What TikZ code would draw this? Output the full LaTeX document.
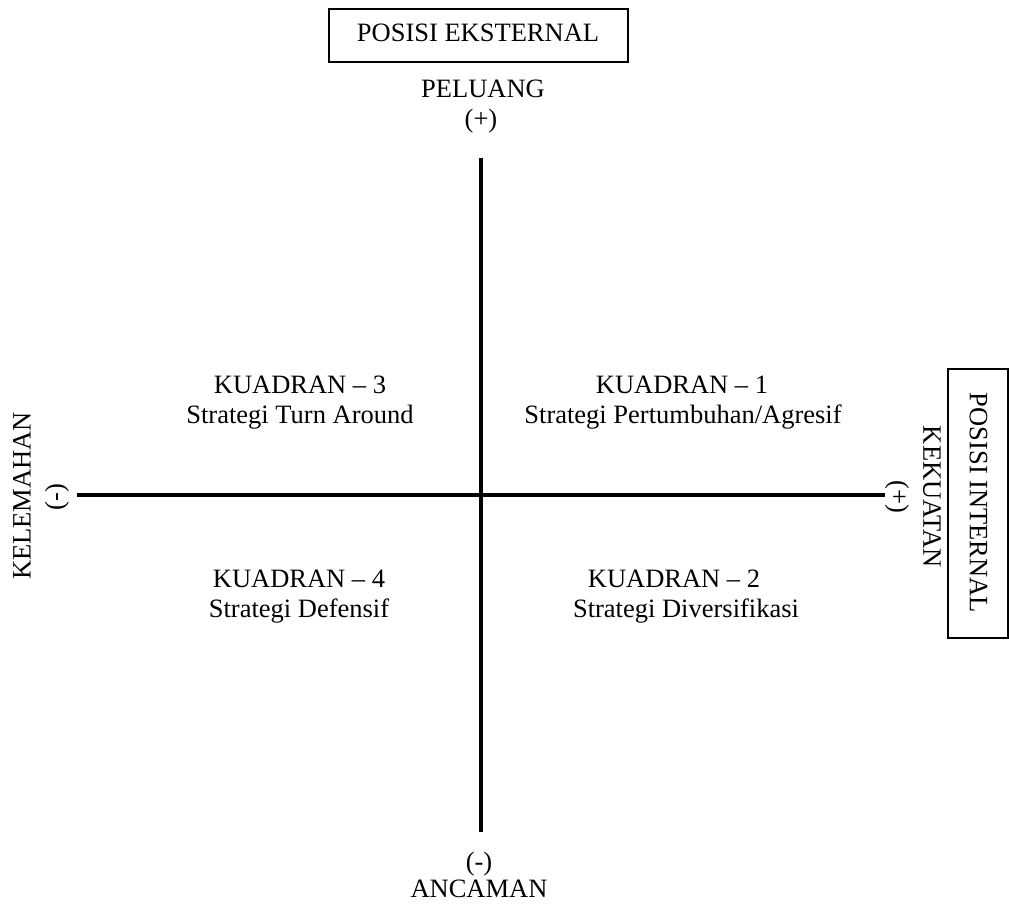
\documentclass[tikz,border=0pt]{standalone}
\usepackage{fontspec}
\setmainfont{Liberation Serif}
\begin{document}
\begin{tikzpicture}[x=1pt,y=-1pt,
  every node/.style={inner sep=0pt, outer sep=0pt, font=\fontsize{26.5}{30}\selectfont},
  axis/.style={line width=4pt},
  frame/.style={draw, line width=1.3pt},
  lbl/.style={anchor=base}]
\useasboundingbox (0,0) rectangle (1009,906);
% axes
\coordinate (vtop) at (481,158);
\coordinate (vbot) at (481,832);
\coordinate (hleft) at (77,495);
\coordinate (hright) at (885,495);
\draw[axis] (vtop) -- (vbot);
\draw[axis] (hleft) -- (hright);
% top
\node[frame, minimum width=299pt, minimum height=53pt] (ext) at (478.5,35.5) {};
\node[lbl] (extt) at (478,41) {POSISI EKSTERNAL};
\node[lbl] (pel) at (483,97) {PELUANG};
\node[lbl] (plus) at (481,127) {(+)};
% bottom
\node[lbl] (minus) at (479,870) {(-)};
\node[lbl] (anc) at (479,897) {ANCAMAN};
% left
\node[rotate=90] (kel) at (22,496) {KELEMAHAN};
\node[rotate=90] (lminus) at (57,497) {(-)};
% right
\node[rotate=-90] (rplus) at (897,497) {(+)};
\node[rotate=-90] (kek) at (932,497) {KEKUATAN};
\node[frame, rotate=-90, minimum width=269pt, minimum height=60pt] (intb) at (978,503.5) {};
\node[rotate=-90] (intt) at (978.5,503) {POSISI INTERNAL};
% quadrants
\node[lbl] (k3) at (300,393) {KUADRAN \textendash\ 3};
\node[lbl] (s3) at (300,423) {Strategi Turn Around};
\node[lbl] (k1) at (682,393) {KUADRAN \textendash\ 1};
\node[lbl] (s1) at (683,423) {Strategi Pertumbuhan/Agresif};
\node[lbl] (k4) at (299,587) {KUADRAN \textendash\ 4};
\node[lbl] (s4) at (299,617) {Strategi Defensif};
\node[lbl] (k2) at (674,587) {KUADRAN \textendash\ 2};
\node[lbl] (s2) at (686,617) {Strategi Diversifikasi};
\end{tikzpicture}
\end{document}
